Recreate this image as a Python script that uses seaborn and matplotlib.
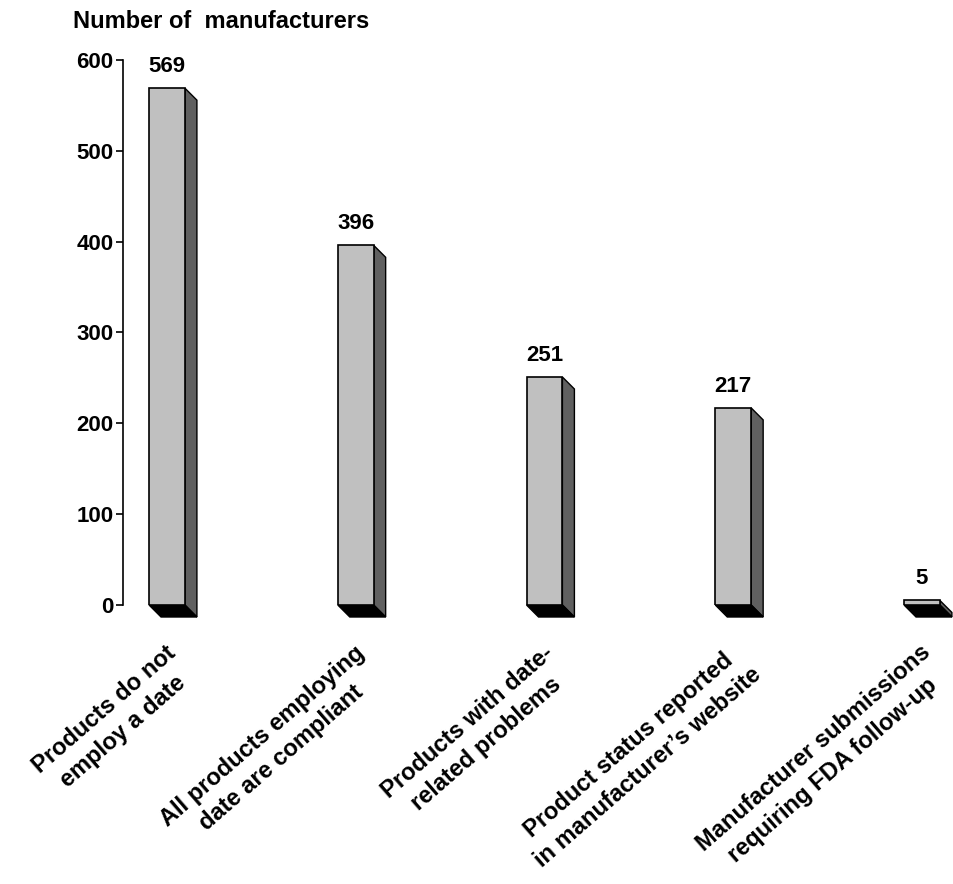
import matplotlib
matplotlib.use("Agg")
import matplotlib.pyplot as plt
import matplotlib.transforms as mtransforms
from matplotlib.patches import Polygon
import pandas as pd
import seaborn as sns

categories = [
    "Products do not\nemploy a date",
    "All products employing\ndate are compliant",
    "Products with date-\nrelated problems",
    "Product status reported\nin manufacturer\u2019s website",
    "Manufacturer submissions\nrequiring FDA follow-up",
]
counts = [569, 396, 251, 217, 5]
y_ticks = [0, 100, 200, 300, 400, 500, 600]
y_title = "Number of  manufacturers"

sns.set_theme(style="white")
plt.rcParams["font.family"] = ["Liberation Sans", "DejaVu Sans"]
plt.rcParams["font.weight"] = "bold"

W, H = 954, 884
fig = plt.figure(figsize=(W / 100, H / 100), dpi=100)
ax = fig.add_axes([123 / W, (H - 605) / H, 822 / W, 545 / H])

df = pd.DataFrame({"category": categories, "count": counts})
sns.barplot(data=df, x="category", y="count", color="#c0c0c0", saturation=1,
            width=0.19, edgecolor="black", linewidth=1.2, ax=ax, zorder=3)

ax.set_xlim(-0.233, 4.122)
ax.set_ylim(0, 600)
ax.set_yticks(y_ticks)
ax.set_xlabel("")
ax.set_ylabel("")

# depth of the pseudo-3D boxes, in pixels
depth_px = 12
px_x = ax.transData.transform((1, 0))[0] - ax.transData.transform((0, 0))[0]
px_y = ax.transData.transform((0, 1))[1] - ax.transData.transform((0, 0))[1]
dx = depth_px / px_x
dy = depth_px / px_y

for p in ax.patches[:len(counts)]:
    x0, w, h = p.get_x(), p.get_width(), p.get_height()
    side = Polygon([(x0 + w, h), (x0 + w + dx, h - dy), (x0 + w + dx, -dy), (x0 + w, 0)],
                   closed=True, facecolor="#606060", edgecolor="black", lw=1.0,
                   clip_on=False, zorder=2)
    bottom = Polygon([(x0, 0), (x0 + w, 0), (x0 + w + dx, -dy), (x0 + dx, -dy)],
                     closed=True, facecolor="black", edgecolor="black", lw=1.0,
                     clip_on=False, zorder=2.5)
    ax.add_patch(side)
    ax.add_patch(bottom)

ax.bar_label(ax.containers[0], labels=[str(v) for v in counts], padding=8,
             fontsize=16, fontweight="bold", color="black")

for s in ("top", "right", "bottom"):
    ax.spines[s].set_visible(False)
ax.spines["left"].set_color("black")
ax.spines["left"].set_linewidth(1.2)
ax.tick_params(axis="y", left=True, length=5, width=1.2, color="black",
               direction="out", pad=2, labelsize=16, labelcolor="black")
ax.tick_params(axis="x", bottom=False, length=0, pad=0, labelsize=17, labelcolor="black")

shift = mtransforms.ScaledTranslation(-2 / 100, -36 / 100, fig.dpi_scale_trans)
for lbl in ax.get_xticklabels():
    lbl.set_rotation(41)
    lbl.set_rotation_mode("anchor")
    lbl.set_ha("right")
    lbl.set_va("top")
    lbl.set_multialignment("center")
    lbl.set_linespacing(1.35)
    lbl.set_fontweight("bold")
    lbl.set_transform(lbl.get_transform() + shift)

fig.text(73 / W, 1 - 21 / H, y_title, fontsize=17, fontweight="bold",
         ha="left", va="center", color="black")

fig.savefig("out.png", dpi=100, facecolor="white")
